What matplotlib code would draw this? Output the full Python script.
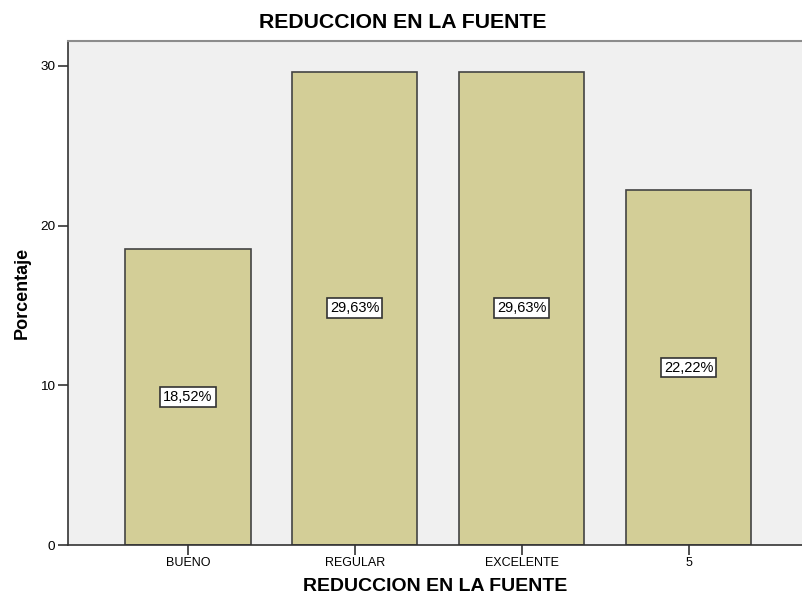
import matplotlib
matplotlib.use("Agg")
import matplotlib.pyplot as plt

plt.rcParams['font.family'] = ['Liberation Sans', 'DejaVu Sans']

categories = ["BUENO", "REGULAR", "EXCELENTE", "5"]
percentages = [18.52, 29.63, 29.63, 22.22]
yticks = [0, 10, 20, 30]

fig = plt.figure(figsize=(8.02, 5.99), dpi=100)
ax = fig.add_axes([68 / 802, 1 - 545 / 599, 1 - 68 / 802, (545 - 41) / 599])
ax.set_facecolor("#F0F0F0")

x = list(range(len(categories)))
ax.bar(x, percentages, width=0.75, color="#D3CE97", edgecolor="#444444",
       linewidth=1.2, zorder=2)

for xi, v in zip(x, percentages):
    ax.text(xi, v / 2, f"{v:.2f}%".replace(".", ","), ha="center", va="center",
            fontsize=10.5, color="black", zorder=3,
            bbox=dict(boxstyle="square,pad=0.2", facecolor="white",
                      edgecolor="#333333", linewidth=1.2))

ax.set_xlim(-0.719, 3.68)
ax.set_ylim(0, 31.56)
ax.set_xticks(x)
ax.set_xticklabels(categories, fontsize=9)
ax.set_yticks(yticks)
ax.set_yticklabels([str(t) for t in yticks], fontsize=9.7)
ax.tick_params(axis="both", length=7, width=1.2, color="#333333", pad=2)

ax.spines["right"].set_visible(False)
ax.spines["top"].set_color("#8C8C8C")
ax.spines["top"].set_linewidth(1.5)
ax.spines["left"].set_color("#333333")
ax.spines["bottom"].set_color("#333333")
ax.spines["left"].set_linewidth(1.2)
ax.spines["bottom"].set_linewidth(1.2)

ax.set_ylabel("Porcentaje", fontsize=13, fontweight="bold", labelpad=7)
ax.set_xlabel("REDUCCION EN LA FUENTE", fontsize=14, fontweight="bold", labelpad=6)
fig.text(403 / 802, 1 - 23 / 599, "REDUCCION EN LA FUENTE", ha="center", va="center",
         fontsize=15.3, fontweight="bold")

fig.savefig("out.png", dpi=100)
